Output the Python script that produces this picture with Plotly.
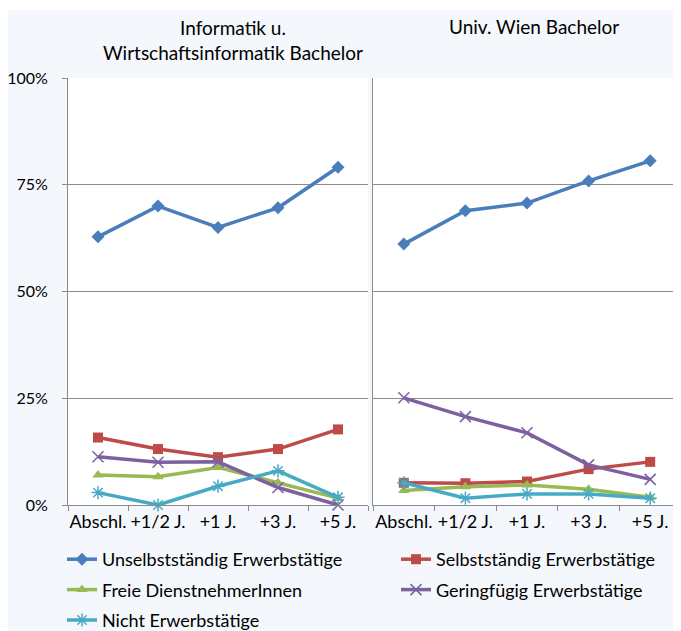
import plotly.graph_objects as go

# Page body has an 8px default margin; size the figure so it fills the 681x631 window.
OFF = 8
W, H = 681 - OFF, 631 - OFF

categories = ["Abschl.", "+1/2 J.", "+1 J.", "+3 J.", "+5 J."]
series_names = ["Unselbstständig Erwerbstätige", "Selbstständig Erwerbstätige",
                "Freie DienstnehmerInnen", "Geringfügig Erwerbstätige", "Nicht Erwerbstätige"]

# left panel: Informatik u. Wirtschaftsinformatik Bachelor (percent)
unselb_l = [62.8, 70.0, 65.0, 69.6, 79.1]
selb_l = [15.8, 13.1, 11.2, 13.1, 17.7]
freie_l = [7.0, 6.6, 8.8, 5.2, 1.6]
gering_l = [11.3, 10.0, 10.1, 4.1, 0.0]
nicht_l = [2.9, 0.0, 4.4, 8.0, 1.8]

# right panel: Univ. Wien Bachelor (percent)
unselb_r = [61.1, 68.9, 70.7, 75.9, 80.6]
selb_r = [5.2, 5.1, 5.5, 8.4, 10.1]
freie_r = [3.4, 4.3, 4.7, 3.7, 1.8]
gering_r = [25.1, 20.7, 16.9, 9.4, 6.0]
nicht_r = [5.2, 1.6, 2.6, 2.6, 1.6]

titles = ["Informatik u.<br>Wirtschaftsinformatik Bachelor", "Univ. Wien Bachelor"]
y_ticks = [0, 25, 50, 75, 100]
y_tick_labels = ["0%", "25%", "50%", "75%", "100%"]

colors = ["#4A7EBB", "#BE4B48", "#98B954", "#7D60A0", "#46AAC5"]
symbols = ["diamond", "square", "triangle-up", "x-thin-open", "asterisk-open"]
msizes = [10, 10, 10, 11, 11]
legend_ids = ["legend", "legend2", "legend", "legend2", "legend"]

FONT = "Lato"
GRID = "#8c8c8c"

left = [unselb_l, selb_l, freie_l, gering_l, nicht_l]
right = [unselb_r, selb_r, freie_r, gering_r, nicht_r]

fig = go.Figure()

for panel, data in enumerate([left, right]):
    xa = "x" if panel == 0 else "x2"
    ya = "y" if panel == 0 else "y2"
    for i, vals in enumerate(data):
        sym = symbols[i]
        marker = dict(symbol=sym, size=msizes[i], color=colors[i])
        if sym.endswith("open"):
            marker["line"] = dict(color=colors[i], width=1.5)
        fig.add_trace(go.Scatter(
            x=categories, y=vals, name=series_names[i], mode="lines+markers",
            line=dict(color=colors[i], width=3.5), marker=marker,
            xaxis=xa, yaxis=ya, cliponaxis=False,
            legend=legend_ids[i], legendgroup=series_names[i],
            showlegend=(panel == 0),
        ))

def px_x(v):
    # v: pixel position in the window
    return (v - OFF) / W

def px_y(v):
    return 1 - (v - OFF) / H

ydom = [px_y(505), px_y(78)]
xaxis_common = dict(
    type="category", range=[-0.5, 4.5], showline=True, linecolor=GRID, linewidth=1,
    ticks="outside", ticklen=5, tickcolor=GRID, tickson="boundaries", tickangle=0,
    showgrid=False, tickfont=dict(family=FONT, size=18, color="#000"),
    fixedrange=True, automargin=False,
)
yaxis_common = dict(
    range=[0, 100], tickvals=y_ticks, ticktext=y_tick_labels, showgrid=True,
    gridcolor=GRID, gridwidth=1, showline=True, linecolor=GRID, linewidth=1,
    zeroline=False, domain=ydom, automargin=False,
    tickfont=dict(family=FONT, size=16, color="#000"),
)

fig.update_layout(
    width=W, height=H, margin=dict(l=0, r=0, t=0, b=0, autoexpand=False),
    paper_bgcolor="#f4f7fc", plot_bgcolor="#ffffff",
    xaxis=dict(domain=[px_x(68), px_x(368)], anchor="y", **xaxis_common),
    xaxis2=dict(domain=[px_x(373), 1.0], anchor="y2", **xaxis_common),
    yaxis=dict(anchor="x", ticks="outside", ticklen=5, tickcolor=GRID,
               ticklabelstandoff=11, **yaxis_common),
    yaxis2=dict(anchor="x2", ticks="", showticklabels=False, **yaxis_common),
    legend=dict(x=px_x(62), y=px_y(541), xanchor="left", yanchor="top",
                orientation="v", bgcolor="rgba(0,0,0,0)", tracegroupgap=4,
                font=dict(family=FONT, size=18, color="#000")),
    legend2=dict(x=px_x(396), y=px_y(541), xanchor="left", yanchor="top",
                 orientation="v", bgcolor="rgba(0,0,0,0)", tracegroupgap=4,
                 font=dict(family=FONT, size=18, color="#000")),
    shapes=[dict(type="rect", xref="paper", yref="paper", x0=0, x1=1.0,
                 y0=px_y(10), y1=1.0, fillcolor="#ffffff", line=dict(width=0),
                 layer="below")],
    annotations=[
        dict(text=titles[0], x=px_x(233), y=px_y(40), xref="paper", yref="paper",
             showarrow=False, xanchor="center", yanchor="middle",
             font=dict(family=FONT, size=19, color="#000")),
        dict(text=titles[1], x=px_x(534), y=px_y(27), xref="paper", yref="paper",
             showarrow=False, xanchor="center", yanchor="middle",
             font=dict(family=FONT, size=19, color="#000")),
    ],
)

fig.write_html("out.html")
